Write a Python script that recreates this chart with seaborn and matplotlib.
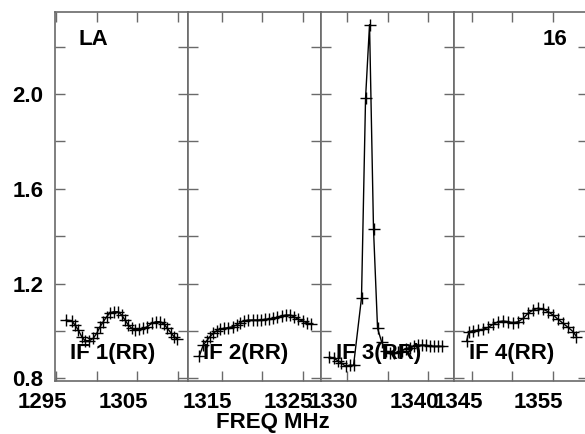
import matplotlib
matplotlib.use("Agg")
import matplotlib.pyplot as plt
from matplotlib.ticker import FixedLocator, NullFormatter
from matplotlib.transforms import ScaledTranslation
import pandas as pd
import seaborn as sns

sns.set_style("white")
plt.rcParams['font.family'] = ['Liberation Sans', 'DejaVu Sans']
plt.rcParams['font.weight'] = 'bold'
plt.rcParams['text.color'] = 'black'
plt.rcParams['xtick.labelcolor'] = 'black'
plt.rcParams['ytick.labelcolor'] = 'black'

# IF 1 (RR)
if1_freq = [1296.23, 1296.94, 1297.34, 1297.75, 1298.17, 1298.58, 1299.11, 1299.60,
            1300.02, 1300.43, 1300.83, 1301.25, 1301.66, 1302.15, 1302.68, 1303.10,
            1303.51, 1303.92, 1304.33, 1304.74, 1305.27, 1305.76, 1306.26, 1306.80,
            1307.33, 1307.82, 1308.32, 1308.72, 1309.14, 1309.55, 1309.96]
if1_amp = [1.046, 1.043, 1.025, 1.004, 0.976, 0.959, 0.959, 0.969, 0.990, 1.018, 1.039,
           1.060, 1.077, 1.081, 1.081, 1.067, 1.046, 1.025, 1.011, 1.004, 1.007, 1.011,
           1.018, 1.032, 1.039, 1.039, 1.029, 1.011, 0.993, 0.976, 0.966]

# IF 2 (RR)
if2_freq = [1312.23, 1312.73, 1313.15, 1313.56, 1313.96, 1314.38, 1314.79, 1315.28,
            1315.81, 1316.36, 1316.85, 1317.26, 1317.75, 1318.28, 1318.83, 1319.32,
            1319.81, 1320.35, 1320.88, 1321.37, 1321.86, 1322.41, 1322.94, 1323.43,
            1323.93, 1324.46, 1325.00, 1325.49, 1325.99]
if2_amp = [0.894, 0.941, 0.959, 0.976, 0.990, 1.001, 1.007, 1.011, 1.014, 1.018, 1.025,
           1.035, 1.043, 1.046, 1.046, 1.046, 1.046, 1.049, 1.050, 1.053, 1.058, 1.064,
           1.067, 1.067, 1.060, 1.049, 1.042, 1.035, 1.029]

# IF 3 (RR)
if3_freq = [1327.80, 1328.30, 1328.79, 1329.28, 1329.78, 1330.27, 1330.77, 1331.75,
            1332.25, 1332.74, 1333.23, 1333.73, 1334.22, 1334.72, 1335.21, 1335.70,
            1336.20, 1336.69, 1337.19, 1337.68, 1338.17, 1338.67, 1339.16, 1339.65,
            1340.15, 1340.64, 1341.14, 1341.63]
if3_amp = [0.890, 0.885, 0.875, 0.865, 0.850, 0.855, 0.855, 1.140, 1.983, 2.293, 1.430,
           1.011, 0.955, 0.915, 0.905, 0.905, 0.910, 0.915, 0.925, 0.930, 0.935, 0.940,
           0.940, 0.940, 0.935, 0.935, 0.935, 0.935]

# IF 4 (RR)
if4_freq = [1344.31, 1344.59, 1345.12, 1345.74, 1346.36, 1346.99, 1347.61, 1348.23,
            1348.85, 1349.47, 1350.09, 1350.71, 1351.33, 1351.95, 1352.57, 1353.19,
            1353.81, 1354.43, 1355.05, 1355.67, 1356.29, 1356.91, 1357.53, 1357.95]
if4_amp = [0.959, 0.997, 1.001, 1.004, 1.007, 1.015, 1.029, 1.039, 1.042, 1.039, 1.035,
           1.039, 1.053, 1.075, 1.089, 1.096, 1.092, 1.081, 1.067, 1.049, 1.032, 1.015,
           0.997, 0.976]

panel_names = ['IF 1(RR)', 'IF 2(RR)', 'IF 3(RR)', 'IF 4(RR)']
freqs = [if1_freq, if2_freq, if3_freq, if4_freq]
amps = [if1_amp, if2_amp, if3_amp, if4_amp]
labeled_ticks = [[1295, 1305], [1315, 1325], [1330, 1340], [1345, 1355]]
other_ticks = [[1300, 1310], [1320], [1335], [1350]]
x_limits = [(1294.88, 1311.27), (1310.84, 1327.2), (1326.69, 1343.2), (1342.77, 1359.38)]

W, H = 585, 434
fig = plt.figure(figsize=(W / 100, H / 100), dpi=100)
edges = [55, 188, 320.5, 454.3, 588]
bottom, top = 380.7, 12.3
frame_col = '#6a6a6a'

for i in range(4):
    ax = fig.add_axes([edges[i] / W, (H - bottom) / H,
                       (edges[i + 1] - edges[i]) / W, (bottom - top) / H])
    df = pd.DataFrame({'freq': freqs[i], 'amp': amps[i]})
    sns.lineplot(data=df, x='freq', y='amp', ax=ax, color='black', lw=1.0,
                 marker='+', markersize=9, markeredgecolor='black', mew=1.0)
    ax.set_xlim(*x_limits[i])
    ax.set_ylim(0.79, 2.345)
    ax.set_xlabel('')
    ax.set_ylabel('')

    ax.xaxis.set_major_locator(FixedLocator(labeled_ticks[i]))
    ax.xaxis.set_minor_locator(FixedLocator(other_ticks[i]))
    ax.yaxis.set_major_locator(FixedLocator([0.8, 1.2, 1.6, 2.0]))
    ax.yaxis.set_minor_locator(FixedLocator([1.0, 1.4, 1.8, 2.2]))
    ax.tick_params(which='both', direction='in', length=7.5, width=1.0,
                   color=frame_col, top=True, right=True, bottom=True, left=True)
    ax.tick_params(axis='x', which='major', labelsize=16, pad=8)
    ax.tick_params(axis='y', which='major', labelsize=16, pad=8.5)
    if i > 0:
        ax.yaxis.set_major_formatter(NullFormatter())
    else:
        ax.set_yticklabels(['0.8', '1.2', '1.6', '2.0'], fontweight='bold')
    ax.set_xticklabels([str(t) for t in labeled_ticks[i]], fontweight='bold')
    shift = ScaledTranslation(-14 / 100, 0, fig.dpi_scale_trans)
    for lab in ax.get_xticklabels():
        lab.set_transform(lab.get_transform() + shift)

    for sp in ax.spines.values():
        sp.set_color(frame_col)
        sp.set_linewidth(1.2)

    ax.text(15 / (edges[i + 1] - edges[i]), 22 / (bottom - top), panel_names[i],
            transform=ax.transAxes, fontsize=16, fontweight='bold',
            ha='left', va='baseline')

    if i == 0:
        ax.text(23 / 133, 1 - 33 / (bottom - top), 'LA', transform=ax.transAxes,
                fontsize=16, fontweight='bold', ha='left', va='baseline')
    if i == 3:
        ax.text((567 - edges[3]) / (edges[4] - edges[3]), 1 - 33 / (bottom - top), '16',
                transform=ax.transAxes, fontsize=16, fontweight='bold',
                ha='right', va='baseline')

fig.text(273 / W, (H - 428.3) / H, 'FREQ MHz', fontsize=16, fontweight='bold',
         ha='center', va='baseline')

fig.savefig('out.png', dpi=100)
